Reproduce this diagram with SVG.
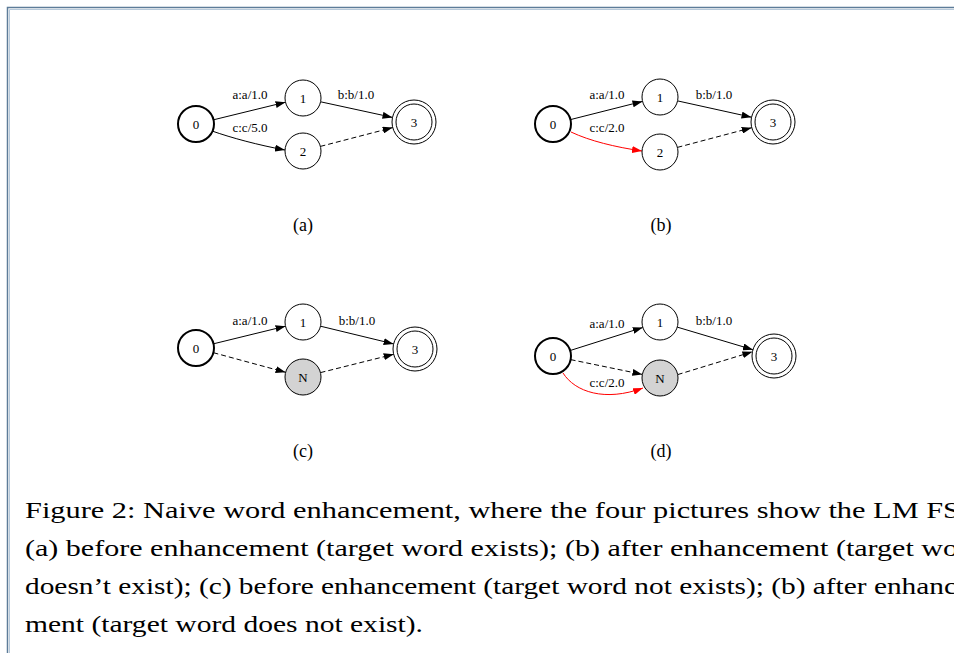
<svg xmlns="http://www.w3.org/2000/svg" width="954" height="653" viewBox="0 0 954 653">
<defs>
<marker id="ah" markerWidth="10" markerHeight="7" refX="10" refY="3.5" orient="auto" markerUnits="userSpaceOnUse"><path d="M0,0 L10,3.5 L0,7 z" fill="#000"/></marker>
<marker id="ahr" markerWidth="10" markerHeight="7" refX="10" refY="3.5" orient="auto" markerUnits="userSpaceOnUse"><path d="M0,0 L10,3.5 L0,7 z" fill="#ff0000"/></marker>
<style>
.n{fill:#fff;stroke:#000;stroke-width:1}
.s{fill:#fff;stroke:#000;stroke-width:2}
.g{fill:#d3d3d3;stroke:#000;stroke-width:1}
.f{fill:none;stroke:#000;stroke-width:1}
.t{font-family:"Liberation Serif","Times New Roman",serif;font-size:13px;fill:#000;text-anchor:middle}
.e{fill:none;stroke:#000;stroke-width:1;marker-end:url(#ah)}
.d{fill:none;stroke:#000;stroke-width:1;stroke-dasharray:5,3;marker-end:url(#ah)}
.r{fill:none;stroke:#ff0000;stroke-width:1;marker-end:url(#ahr)}
.lab{font-family:"Liberation Serif","Times New Roman",serif;font-size:13px;fill:#000;text-anchor:middle}
.cap{font-family:"Liberation Serif","Times New Roman",serif;font-size:18px;fill:#000;text-anchor:middle}
.body{font-family:"Liberation Serif","Times New Roman",serif;font-size:24px;fill:#000}
</style>
</defs>
<rect width="954" height="653" fill="#fff"/>
<g id="frame">
<path d="M7.5,653 V7.5 H954" fill="none" stroke="#5d7c99" stroke-width="1.5"/>
<path d="M9.5,653 V9.5 H954" fill="none" stroke="#b7c9da" stroke-width="1"/>
</g>
<g id="connectors">
<path class="e" d="M213.5,119.8 L285.5,102.2"/>
<path class="e" d="M320.6,101.8 L392.5,117.4"/>
<path class="e" d="M212,131 C232,138 258,145 285,150"/>
<path class="d" d="M320.4,146.4 L392.7,127.6"/>
<path class="e" d="M570.5,119.6 L642.5,101.4"/>
<path class="e" d="M677.6,100.9 L751.5,117.2"/>
<path class="r" d="M571,132 C590,141 615,147 642,151"/>
<path class="d" d="M677.4,147.4 L751.7,127.7"/>
<path class="e" d="M213.5,343.8 L285.5,326.2"/>
<path class="e" d="M320.5,326.2 L393.6,343.9"/>
<path class="d" d="M213.4,352.7 L285.6,372.3"/>
<path class="d" d="M320.5,372.6 L393.7,354.3"/>
<path class="e" d="M570.2,350.5 L642.8,327.5"/>
<path class="e" d="M677.2,327.1 L752.9,349.7"/>
<path class="d" d="M570.6,359.6 L642.4,374.4"/>
<path class="d" d="M677.7,374.6 L752.4,351.8"/>
<path class="r" d="M563,373 C575,392 605,402 643,388"/>
</g>
<g id="edge-labels">
<text class="lab" x="250" y="99">a:a/1.0</text>
<text class="lab" x="356" y="99">b:b/1.0</text>
<text class="lab" x="250" y="132">c:c/5.0</text>
<text class="lab" x="607" y="99">a:a/1.0</text>
<text class="lab" x="714" y="99">b:b/1.0</text>
<text class="lab" x="607" y="132">c:c/2.0</text>
<text class="lab" x="250" y="325">a:a/1.0</text>
<text class="lab" x="357" y="325">b:b/1.0</text>
<text class="lab" x="607" y="328">a:a/1.0</text>
<text class="lab" x="714" y="325">b:b/1.0</text>
<text class="lab" x="607" y="387">c:c/2.0</text>
</g>
<g id="a0"><circle class="s" cx="196" cy="124" r="18"/><text class="t" x="196" y="128.5">0</text></g>
<g id="a1"><circle class="n" cx="303" cy="98" r="18"/><text class="t" x="303" y="102.5">1</text></g>
<g id="a2"><circle class="n" cx="303" cy="151" r="18"/><text class="t" x="303" y="155.5">2</text></g>
<g id="a3"><circle class="f" cx="414" cy="122" r="22"/><circle class="n" cx="414" cy="122" r="18"/><text class="t" x="414" y="126.5">3</text></g>
<g id="b0"><circle class="s" cx="553" cy="124" r="18"/><text class="t" x="553" y="128.5">0</text></g>
<g id="b1"><circle class="n" cx="660" cy="97" r="18"/><text class="t" x="660" y="101.5">1</text></g>
<g id="b2"><circle class="n" cx="660" cy="152" r="18"/><text class="t" x="660" y="156.5">2</text></g>
<g id="b3"><circle class="f" cx="773" cy="122" r="22"/><circle class="n" cx="773" cy="122" r="18"/><text class="t" x="773" y="126.5">3</text></g>
<g id="c0"><circle class="s" cx="196" cy="348" r="18"/><text class="t" x="196" y="352.5">0</text></g>
<g id="c1"><circle class="n" cx="303" cy="322" r="18"/><text class="t" x="303" y="326.5">1</text></g>
<g id="cN"><circle class="g" cx="303" cy="377" r="18"/><text class="t" x="303" y="381.5">N</text></g>
<g id="c3"><circle class="f" cx="415" cy="349" r="22"/><circle class="n" cx="415" cy="349" r="18"/><text class="t" x="415" y="353.5">3</text></g>
<g id="d0"><circle class="s" cx="553" cy="356" r="18"/><text class="t" x="553" y="360.5">0</text></g>
<g id="d1"><circle class="n" cx="660" cy="322" r="18"/><text class="t" x="660" y="326.5">1</text></g>
<g id="dN"><circle class="g" cx="660" cy="378" r="18"/><text class="t" x="660" y="382.5">N</text></g>
<g id="d3"><circle class="f" cx="774" cy="356" r="22"/><circle class="n" cx="774" cy="356" r="18"/><text class="t" x="774" y="360.5">3</text></g>
<g id="subcaptions">
<text class="cap" x="303" y="231">(a)</text>
<text class="cap" x="661" y="231">(b)</text>
<text class="cap" x="303" y="457">(c)</text>
<text class="cap" x="661" y="457">(d)</text>
</g>
<g id="caption">
<text class="body" x="25" y="518" textLength="935" lengthAdjust="spacingAndGlyphs">Figure 2: Naive word enhancement, where the four pictures show the LM FS</text>
<text class="body" x="25" y="556" textLength="933" lengthAdjust="spacingAndGlyphs">(a) before enhancement (target word exists); (b) after enhancement (target wo</text>
<text class="body" x="25" y="594" textLength="932" lengthAdjust="spacingAndGlyphs">doesn’t exist); (c) before enhancement (target word not exists); (b) after enhanc</text>
<text class="body" x="25" y="632" textLength="398" lengthAdjust="spacingAndGlyphs">ment (target word does not exist).</text>
</g>
</svg>
